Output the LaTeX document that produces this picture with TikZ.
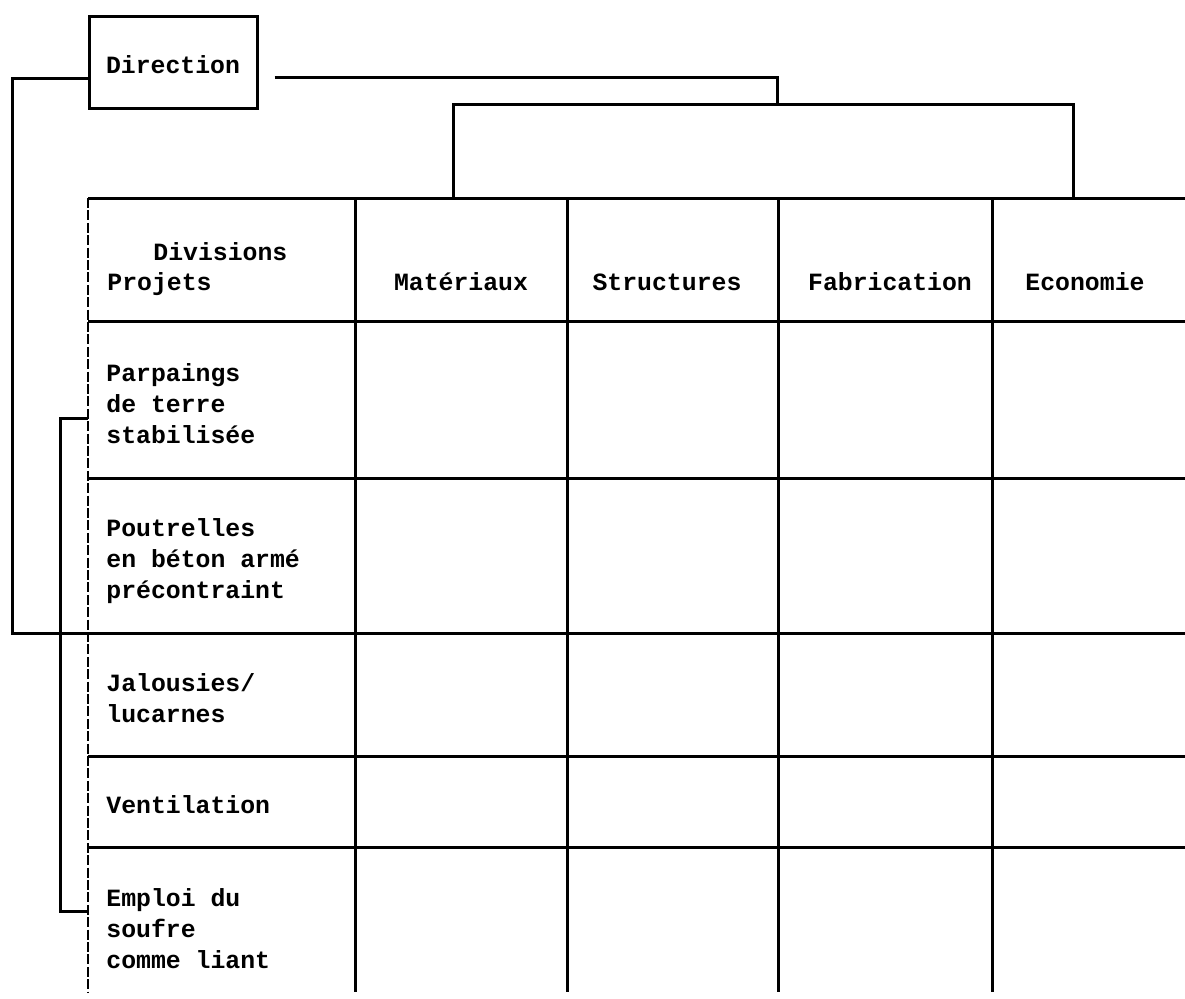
\documentclass[tikz,border=0pt]{standalone}
\usepackage{fontspec}
\setmonofont{Liberation Mono}
\usetikzlibrary{positioning}
\tikzset{
  dirbox/.style={
    rectangle,
    draw,
    line width=1.5pt,
    minimum width=84pt,
    minimum height=46pt,
    inner sep=0pt
  },
  tabtext/.style={
    font=\ttfamily\bfseries\fontsize{12.4}{15.3}\selectfont,
    inner sep=0pt,
    align=left
  },
  grid line/.style={line width=1.5pt},
  edge line/.style={line width=1pt, dash pattern=on 5pt off 1.2pt},
  org line/.style={line width=1.5pt}
}
\begin{document}
\begin{tikzpicture}[x=0.5pt, y=-0.5pt]
  \useasboundingbox (0,0) rectangle (1185,998);

  % direction
  \node[dirbox] (dir) at (173,62) {};
  \node[tabtext, anchor=base] (dirtext) at (173,73) {Direction};

  % table frame
  \coordinate (tl) at (88,198);
  \coordinate (tr) at (1185,198);
  \coordinate (bl) at (88,992);
  \draw[grid line] (tl) -- (tr);
  \draw[edge line] (tl) -- (bl);
  \draw[grid line] (355,198) -- (355,992);
  \draw[grid line] (567,198) -- (567,992);
  \draw[grid line] (778,198) -- (778,992);
  \draw[grid line] (992,198) -- (992,992);
  \draw[grid line] (88,321) -- (1185,321);
  \draw[grid line] (88,478) -- (1185,478);
  \draw[grid line] (88,633) -- (1185,633);
  \draw[grid line] (88,756) -- (1185,756);
  \draw[grid line] (88,847) -- (1185,847);

  % headings
  \node[tabtext, anchor=base west] (div) at (153,260) {Divisions};
  \node[tabtext, anchor=base west] (proj) at (107,290) {Projets};
  \node[tabtext, anchor=base] (mat) at (461,290) {Matériaux};
  \node[tabtext, anchor=base] (struc) at (667,290) {Structures};
  \node[tabtext, anchor=base] (fab) at (890,290) {Fabrication};
  \node[tabtext, anchor=base] (eco) at (1085,290) {Economie};

  % projects (base = last line)
  \node[tabtext, anchor=base west] (parp) at (106,443) {Parpaings\\de terre\\stabilisée};
  \node[tabtext, anchor=base west] (pout) at (106,598) {Poutrelles\\en béton armé\\précontraint};
  \node[tabtext, anchor=base west] (jal) at (106,722) {Jalousies/\\lucarnes};
  \node[tabtext, anchor=base west] (vent) at (106,813) {Ventilation};
  \node[tabtext, anchor=base west] (empl) at (106,968) {Emploi du\\soufre\\comme liant};

  % links from direction
  \coordinate (pl) at (88,633);
  \coordinate (dr) at (777,104);
  \coordinate (divl) at (453,198);
  \coordinate (divr) at (1073,198);
  \coordinate (gt) at (88,418);
  \coordinate (gb) at (88,911);
  \draw[org line] (dir.west |- 0,78) -| (12,633) -- (pl);
  \draw[org line] ([xshift=8pt]dir.east |- 0,77) -| (dr);
  \draw[org line] (divl) |- (1073,104) -- (divr);
  \draw[org line] (gt) -- (60,418) -- (60,911) -- (gb);
\end{tikzpicture}
\end{document}
